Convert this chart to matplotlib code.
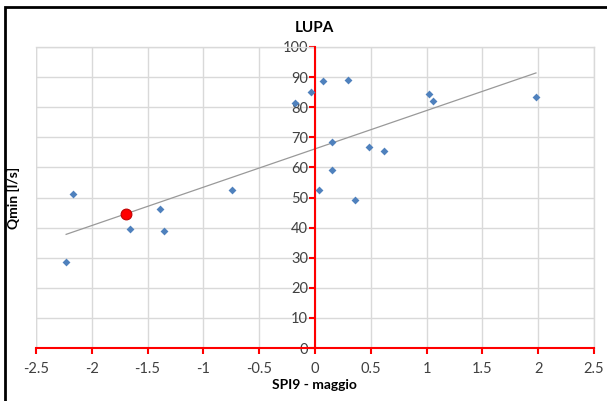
import numpy as np
import matplotlib
matplotlib.use("Agg")
import matplotlib.pyplot as plt
from matplotlib.patches import Rectangle

plt.rcParams['font.family'] = ['Lato', 'DejaVu Sans']

title = "LUPA"
xlabel = "SPI9 - maggio"
ylabel = "Qmin [l/s]"

# blue series (SPI9, Qmin)
spi = [-2.23, -2.17, -1.66, -1.39, -1.35, -0.74, -0.18, -0.04, 0.075, 0.30,
       1.02, 1.06, 1.98, 0.15, 0.48, 0.62, 0.155, 0.035, 0.36]
qmin = [28.5, 51.2, 39.5, 46.2, 38.9, 52.5, 81.5, 85.0, 88.6, 88.9,
        84.5, 82.2, 83.3, 68.4, 66.9, 65.3, 59.0, 52.5, 49.2]
# highlighted point
spi_red = [-1.69]
qmin_red = [44.5]

xticks = [-2.5, -2, -1.5, -1, -0.5, 0, 0.5, 1, 1.5, 2, 2.5]
xticklabels = ["-2.5", "-2", "-1.5", "-1", "-0.5", "0", "0.5", "1", "1.5", "2", "2.5"]
yticks = [0, 10, 20, 30, 40, 50, 60, 70, 80, 90, 100]

fig = plt.figure(figsize=(6.07, 4.01), dpi=100)
ax = fig.add_axes([36/607, 53/401, (594-36)/607, (348-47)/401])

ax.set_xlim(-2.5, 2.5)
ax.set_ylim(0, 100)

# grid
ax.set_xticks(xticks)
ax.set_yticks(yticks)
ax.grid(True, color='#D9D9D9', linewidth=1.0)
ax.set_axisbelow(True)

for s in ['top', 'right']:
    ax.spines[s].set_color('#D9D9D9')
    ax.spines[s].set_linewidth(1.0)
ax.spines['left'].set_position(('data', 0))
ax.spines['bottom'].set_position(('data', 0))
ax.spines['left'].set_color('red')
ax.spines['bottom'].set_color('red')
ax.spines['left'].set_linewidth(1.5)
ax.spines['bottom'].set_linewidth(1.5)
ax.spines['left'].set_zorder(3)
ax.spines['bottom'].set_zorder(3)

ax.tick_params(axis='both', colors='red', length=4, width=1.5, direction='out', labelsize=10.5)
ax.tick_params(axis='x', labelcolor='#404040', pad=6)
ax.tick_params(axis='y', labelcolor='#404040', pad=1)
ax.set_xticklabels(xticklabels)

# gray grid line at x=-2.5 (left edge)
ax.axvline(-2.5, color='#D9D9D9', linewidth=1.0, zorder=0)

# trendline (linear fit of blue series)
coef = np.polyfit(spi, qmin, 1)
xs = np.array([min(spi), max(spi)])
ax.plot(xs, np.polyval(coef, xs), color='#999999', linewidth=0.9, zorder=2)

ax.scatter(spi, qmin, marker='D', s=16, color='#4F81BD', zorder=4, linewidths=0)
ax.scatter(spi_red, qmin_red, marker='o', s=60, color='#FF0000', edgecolors='#C00000',
           linewidths=0.8, zorder=5)

fig.text(314/607, 1 - 28/401, title, ha='center', va='center', fontsize=11, fontweight='bold')
fig.text(314/607, 1 - 385/401, xlabel, ha='center', va='center', fontsize=10, fontweight='bold')
fig.text(13/607, 1 - 198/401, ylabel, ha='center', va='center', fontsize=10, fontweight='bold', rotation=90)

# outer border
fig.patches.append(Rectangle((5/607, -0.05), 1.2, 1 - 7/401 + 0.05, transform=fig.transFigure,
                             fill=False, edgecolor='black', linewidth=2, zorder=10))

fig.savefig('out.png', dpi=100)
